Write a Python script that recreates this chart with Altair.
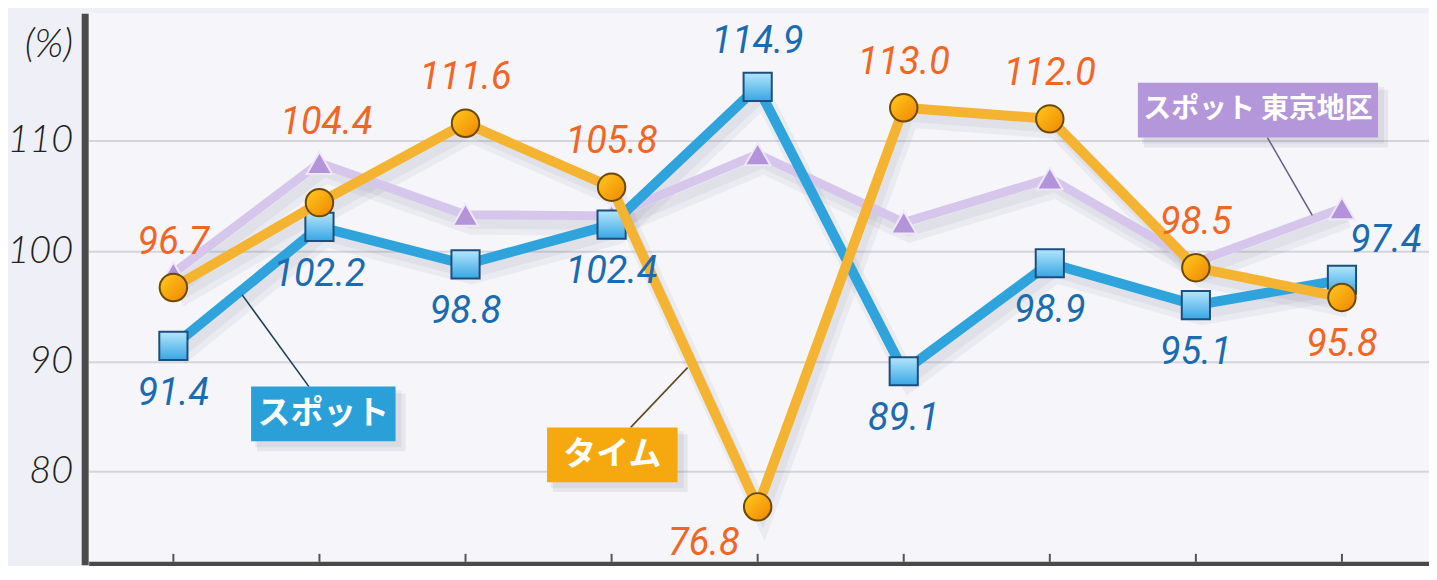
import altair as alt
import pandas as pd

# ---------------- data ----------------
periods = [0, 1, 2, 3, 4, 5, 6, 7, 8]
spot = [91.4, 102.2, 98.8, 102.4, 114.9, 89.1, 98.9, 95.1, 97.4]
time_ = [96.7, 104.4, 111.6, 105.8, 76.8, 113.0, 112.0, 98.5, 95.8]
tokyo = [98.0, 108.0, 103.3, 103.2, 108.8, 102.6, 106.6, 99.0, 103.9]

spot_label_pos = ["below", "below", "below", "below", "above", "below", "below", "below", "right"]
time_label_pos = ["above", "high", "above", "above", "belowleft", "above", "above", "above", "below"]

y_ticks = [80, 90, 100, 110]

callout_text = ["スポット", "タイム", "スポット 東京地区"]
callout_x = [0.532, 2.558, 6.603]
callout_x2 = [1.521, 3.452, 8.247]
callout_y = [87.71, 84.01, 115.27]
callout_y2 = [82.75, 79.04, 110.30]
leader_x = [0.471, 3.520, 7.490]
leader_y = [96.03, 89.43, 110.30]
leader_x2 = [0.928, 3.131, 7.797]
leader_y2 = [87.71, 84.01, 103.25]

# ---------------- styles ----------------
W, H = 1346, 554
X_DOMAIN = [-0.58, 8.596]
Y_DOMAIN = [71.54, 121.59]

label_offsets = {
    "below": (0, 48),
    "above": (0, -45),
    "high": (7, -80),
    "right": (44, -39),
    "belowleft": (-54, 37),
}
callout_fill = {"スポット": "#2A9FD8", "タイム": "#F6A80F", "スポット 東京地区": "#B497DA"}
leader_color = {"スポット": "#1C3F5A", "タイム": "#5E4A1E", "スポット 東京地区": "#6A5F8A"}
callout_size = {"スポット": 33, "タイム": 33, "スポット 東京地区": 28}

rows = []
for i, p in enumerate(periods):
    rows.append({"idx": p, "series": "tokyo", "value": tokyo[i], "pos": ""})
    rows.append({"idx": p, "series": "spot", "value": spot[i], "pos": spot_label_pos[i]})
    rows.append({"idx": p, "series": "time", "value": time_[i], "pos": time_label_pos[i]})
df = pd.DataFrame(rows)

ann = pd.DataFrame({
    "text": callout_text, "x": callout_x, "x2": callout_x2, "y": callout_y, "y2": callout_y2,
    "lx": leader_x, "ly": leader_y, "lx2": leader_x2, "ly2": leader_y2,
})
ann["cx"] = (ann["x"] + ann["x2"]) / 2
ann["cy"] = (ann["y"] + ann["y2"]) / 2

ticks_df = pd.DataFrame({"idx": periods})

x_axis = alt.Axis(labels=False, ticks=False, grid=False, domainColor="#4A4A4A",
                  domainWidth=7, title=None)
y_axis = alt.Axis(values=y_ticks, grid=True, gridColor="#D4D4DC", gridWidth=2,
                  domainColor="#4A4A4A", domainWidth=7, ticks=False, tickSize=0,
                  labelFont="Lato", labelFontSize=38, labelFontStyle="italic",
                  labelFontWeight=300, labelColor="#222222", labelPadding=12, offset=4,
                  title="(%)", titleAngle=0, titleAlign="right", titleBaseline="middle",
                  titleX=-12, titleY=32, titleFont="Lato", titleFontSize=40,
                  titleFontStyle="italic", titleFontWeight=300, titleColor="#222222")

xs = alt.Scale(domain=X_DOMAIN, nice=False, zero=False)
ys = alt.Scale(domain=Y_DOMAIN, nice=False, zero=False)


def X(field):
    return alt.X(f"{field}:Q", scale=xs, axis=x_axis)


def Y(field):
    return alt.Y(f"{field}:Q", scale=ys, axis=y_axis)


base = alt.Chart(df).encode(x=X("idx"), y=Y("value"))

blue_grad = {"gradient": "linear", "x1": 0, "y1": 0, "x2": 0, "y2": 1,
             "stops": [{"offset": 0, "color": "#B4E6FB"}, {"offset": 1, "color": "#38A6E4"}]}
orange_grad = {"gradient": "linear", "x1": 0, "y1": 0, "x2": 1, "y2": 1,
               "stops": [{"offset": 0, "color": "#FFCB1F"}, {"offset": 1, "color": "#F08400"}]}

layers = []

# line shadows
for s in ["tokyo", "spot", "time"]:
    layers.append(base.transform_filter(alt.datum.series == s).mark_line(
        color="#6A6A80", strokeWidth=18, opacity=0.07, xOffset=6, yOffset=11))
    layers.append(base.transform_filter(alt.datum.series == s).mark_line(
        color="#6A6A80", strokeWidth=10, opacity=0.07, xOffset=5, yOffset=9))

series_style = {
    "tokyo": dict(line="#D6C6EC", lw=9),
    "spot": dict(line="#2FA3DB", lw=10),
    "time": dict(line="#F4B331", lw=10),
}

for s in ["tokyo", "spot", "time"]:
    st = series_style[s]
    sub = base.transform_filter(alt.datum.series == s)
    layers.append(sub.mark_line(color=st["line"], strokeWidth=st["lw"], strokeJoin="miter"))
    if s == "tokyo":
        layers.append(sub.mark_point(shape="triangle-up", size=650, filled=True, fill="#B393DA",
                                     stroke="#EEE7F8", strokeWidth=2, opacity=1))
    elif s == "spot":
        layers.append(sub.mark_point(shape="square", size=800, filled=True, fill=blue_grad,
                                     stroke="#1D4E7E", strokeWidth=2, opacity=1))
    else:
        layers.append(sub.mark_point(shape="circle", size=760, filled=True, fill=orange_grad,
                                     stroke="#6E4A00", strokeWidth=2, opacity=1))

# value labels
for s, col in [("spot", "#1B6BB0"), ("time", "#F26522")]:
    for pos, (dx, dy) in label_offsets.items():
        layers.append(
            base.transform_filter((alt.datum.series == s) & (alt.datum.pos == pos))
            .mark_text(font="Roboto", fontStyle="italic", fontSize=38,
                       color=col, dx=dx, dy=dy, align="center", baseline="middle")
            .encode(text=alt.Text("value:Q", format=".1f"))
        )

# callouts
abase = alt.Chart(ann)
for t in callout_text:
    a = abase.transform_filter(alt.datum.text == t)
    layers.append(a.mark_rule(color=leader_color[t], strokeWidth=1.6).encode(
        x=X("lx"), y=Y("ly"), x2="lx2", y2="ly2"))
    layers.append(a.mark_rect(color="#7A7A8A", opacity=0.12, xOffset=6, yOffset=7,
                              x2Offset=10, y2Offset=10).encode(
        x=X("x"), x2="x2", y=Y("y"), y2="y2"))
    layers.append(a.mark_rect(color="#7A7A8A", opacity=0.10, xOffset=4, yOffset=4,
                              x2Offset=6, y2Offset=6).encode(
        x=X("x"), x2="x2", y=Y("y"), y2="y2"))
    layers.append(a.mark_rect(color=callout_fill[t], opacity=1).encode(
        x=X("x"), x2="x2", y=Y("y"), y2="y2"))
    layers.append(a.mark_text(font="Noto Sans CJK JP", fontWeight="bold",
                              fontSize=callout_size[t], color="white",
                              align="center", baseline="middle").encode(
        x=X("cx"), y=Y("cy"), text="text:N"))

# bottom axis ticks (pointing inward)
layers.append(alt.Chart(ticks_df).mark_rule(color="#555555", strokeWidth=2).encode(
    x=X("idx"), y=alt.value(H - 11), y2=alt.value(H - 3)))

chart = alt.layer(*layers).properties(
    width=W, height=H,
    autosize=alt.AutoSizeParams(type="none"),
    padding={"left": 81, "top": 4, "right": 0, "bottom": 0},
    background="#EFEFF8",
).configure_view(fill="#F5F5FA", stroke=None)

chart.save("out.html", embed_options={"renderer": "svg", "actions": False})
